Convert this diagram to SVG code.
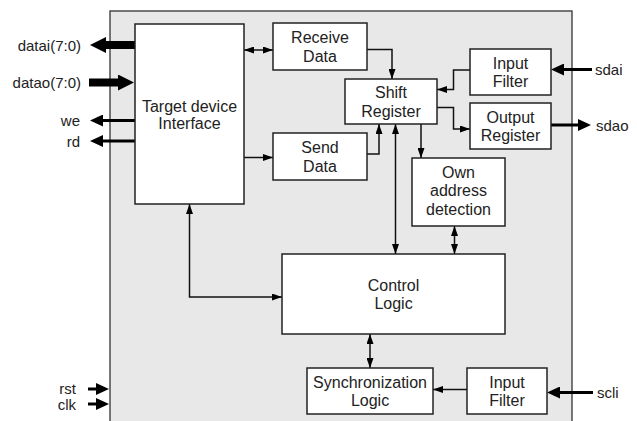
<svg xmlns="http://www.w3.org/2000/svg" width="637" height="421" viewBox="0 0 637 421">
<style>
.box{fill:#fff;stroke:#222;stroke-width:1.5}
.t{font-family:"Liberation Sans",Arial,sans-serif;font-size:16px;fill:#222;text-anchor:middle}
.lbl{font-family:"Liberation Sans",Arial,sans-serif;font-size:15px;fill:#222}
.thin{fill:none;stroke:#111;stroke-width:1.5}
.bus{fill:none;stroke:#000;stroke-width:8}
.sig{fill:none;stroke:#000;stroke-width:3}
</style>
<defs>
<marker id="ah" markerUnits="userSpaceOnUse" markerWidth="10" markerHeight="7" refX="10" refY="3.5" orient="auto-start-reverse"><path d="M0,0 L10,3.5 L0,7 z" fill="#000"/></marker>
<marker id="bh" markerUnits="userSpaceOnUse" markerWidth="16" markerHeight="16" refX="0" refY="8" orient="auto"><path d="M0,0 L16,8 L0,16 z" fill="#000"/></marker>
<marker id="sh" markerUnits="userSpaceOnUse" markerWidth="13" markerHeight="12" refX="0" refY="6" orient="auto"><path d="M0,0 L13,6 L0,12 z" fill="#000"/></marker>
</defs>
<rect x="110" y="11" width="462" height="420" fill="#e8e8e8" stroke="#333" stroke-width="1.3"/>

<g id="connectors">
<line class="thin" x1="244" y1="50" x2="273" y2="50" marker-start="url(#ah)" marker-end="url(#ah)"/>
<line class="thin" x1="244" y1="157.5" x2="273" y2="157.5" marker-end="url(#ah)"/>
<polyline class="thin" points="189.5,204 189.5,297 282,297" marker-start="url(#ah)" marker-end="url(#ah)"/>
<polyline class="thin" points="367,49.5 392,49.5 392,79" marker-end="url(#ah)"/>
<polyline class="thin" points="367,154 379,154 379,124" marker-end="url(#ah)"/>
<line class="thin" x1="395.5" y1="124" x2="395.5" y2="254" marker-start="url(#ah)" marker-end="url(#ah)"/>
<line class="thin" x1="421" y1="124" x2="421" y2="158" marker-end="url(#ah)"/>
<line class="thin" x1="454.5" y1="226" x2="454.5" y2="254" marker-start="url(#ah)" marker-end="url(#ah)"/>
<polyline class="thin" points="470,70 453.5,70 453.5,89.5 437,89.5" marker-end="url(#ah)"/>
<polyline class="thin" points="437,107.5 453.5,107.5 453.5,129 470,129" marker-end="url(#ah)"/>
<line class="thin" x1="370" y1="334" x2="370" y2="368" marker-start="url(#ah)" marker-end="url(#ah)"/>
<line class="thin" x1="467" y1="389.5" x2="433" y2="389.5" marker-end="url(#ah)"/>

<line class="bus" x1="135" y1="45" x2="106" y2="45" marker-end="url(#bh)"/>
<line class="bus" x1="89" y1="82.5" x2="118" y2="82.5" marker-end="url(#bh)"/>
<line class="sig" x1="135" y1="120.5" x2="103" y2="120.5" marker-end="url(#sh)"/>
<line class="sig" x1="135" y1="141" x2="103" y2="141" marker-end="url(#sh)"/>
<line class="sig" x1="88" y1="389" x2="96" y2="389" marker-end="url(#sh)"/>
<line class="sig" x1="88" y1="404" x2="96" y2="404" marker-end="url(#sh)"/>
<line class="sig" x1="592" y1="69.5" x2="564" y2="69.5" marker-end="url(#sh)"/>
<line class="sig" x1="551" y1="125" x2="578" y2="125" marker-end="url(#sh)"/>
<line class="sig" x1="593" y1="392.5" x2="560" y2="392.5" marker-end="url(#sh)"/>
</g>

<g id="labels">
<text class="lbl" x="81" y="50.5" text-anchor="end">datai(7:0)</text>
<text class="lbl" x="81" y="88" text-anchor="end">datao(7:0)</text>
<text class="lbl" x="80" y="126" text-anchor="end">we</text>
<text class="lbl" x="80" y="146.5" text-anchor="end">rd</text>
<text class="lbl" x="76" y="394" text-anchor="end">rst</text>
<text class="lbl" x="76" y="409.5" text-anchor="end">clk</text>
<text class="lbl" x="595" y="75">sdai</text>
<text class="lbl" x="596" y="130.5">sdao</text>
<text class="lbl" x="597" y="398">scli</text>
</g>

<g id="target-device-interface">
<rect class="box" x="135" y="24" width="109" height="180"/>
<text class="t" x="189.5" y="111.5">Target device</text>
<text class="t" x="189.5" y="129">Interface</text>
</g>
<g id="receive-data">
<rect class="box" x="273" y="23" width="94" height="47"/>
<text class="t" x="320" y="43">Receive</text>
<text class="t" x="320" y="61.5">Data</text>
</g>
<g id="send-data">
<rect class="box" x="273" y="133" width="94" height="47"/>
<text class="t" x="320" y="153">Send</text>
<text class="t" x="320" y="171.5">Data</text>
</g>
<g id="shift-register">
<rect class="box" x="345" y="79" width="92" height="45"/>
<text class="t" x="391" y="98">Shift</text>
<text class="t" x="391" y="116.5">Register</text>
</g>
<g id="input-filter-sda">
<rect class="box" x="470" y="49" width="81" height="46"/>
<text class="t" x="510.5" y="68.5">Input</text>
<text class="t" x="510.5" y="87">Filter</text>
</g>
<g id="output-register">
<rect class="box" x="470" y="103" width="81" height="46"/>
<text class="t" x="510.5" y="122.5">Output</text>
<text class="t" x="510.5" y="141">Register</text>
</g>
<g id="own-address-detection">
<rect class="box" x="412" y="158" width="93" height="68"/>
<text class="t" x="458.5" y="177.5">Own</text>
<text class="t" x="458.5" y="196">address</text>
<text class="t" x="458.5" y="214.5">detection</text>
</g>
<g id="control-logic">
<rect class="box" x="282" y="254" width="223" height="80"/>
<text class="t" x="393.5" y="290.5">Control</text>
<text class="t" x="393.5" y="309">Logic</text>
</g>
<g id="synchronization-logic">
<rect class="box" x="307" y="368" width="126" height="46"/>
<text class="t" x="370" y="387.5">Synchronization</text>
<text class="t" x="370" y="406">Logic</text>
</g>
<g id="input-filter-scl">
<rect class="box" x="467" y="368" width="80" height="46"/>
<text class="t" x="507" y="387.5">Input</text>
<text class="t" x="507" y="406">Filter</text>
</g>
</svg>
